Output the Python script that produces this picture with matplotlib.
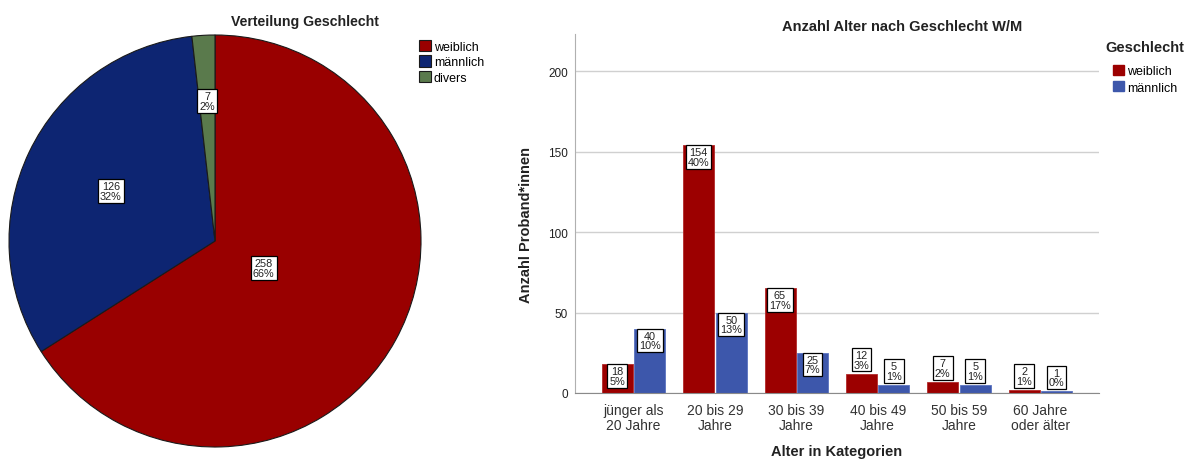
import numpy as np
import matplotlib
matplotlib.use("Agg")
import matplotlib.pyplot as plt
from matplotlib.patches import Patch

plt.rcParams['font.family'] = ['Liberation Sans', 'DejaVu Sans']

# Geschlechterverteilung (Kreisdiagramm)
gender_labels = ['weiblich', 'männlich', 'divers']
gender_counts = [258, 126, 7]
pie_colors = ['#990000', '#0d2572', '#5a7a4c']

# Alter nach Geschlecht (Balkendiagramm)
age_groups = ['jünger als\n20 Jahre', '20 bis 29\nJahre', '30 bis 39\nJahre',
              '40 bis 49\nJahre', '50 bis 59\nJahre', '60 Jahre\noder älter']
female = [18, 154, 65, 12, 7, 2]
male = [40, 50, 25, 5, 5, 1]
bar_colors = ['#9c0000', '#3d57ab']

fig = plt.figure(figsize=(11.93, 4.6), dpi=100)

# --- Kreisdiagramm ---
ax1 = fig.add_axes([9 / 1193, 12 / 460, 412 / 1193, 412 / 460])
wedges, _ = ax1.pie(gender_counts, colors=pie_colors, startangle=90, counterclock=False,
                    wedgeprops=dict(edgecolor='#1a1a1a', linewidth=0.8))
ax1.set_xlim(-1, 1)
ax1.set_ylim(-1, 1)
ax1.set_aspect('equal')

total = sum(gender_counts)
label_r = [0.27, 0.56, 0.68]
for w, n, r in zip(wedges, gender_counts, label_r):
    mid = np.deg2rad((w.theta1 + w.theta2) / 2)
    ax1.text(r * np.cos(mid), r * np.sin(mid), f"{n}\n{round(n / total * 100)}%",
             ha='center', va='center', fontsize=7.8, linespacing=0.95, color='#222222',
             bbox=dict(boxstyle='square,pad=0.18', fc='white', ec='black', lw=0.9))

fig.text(305 / 1193, 1 - 22 / 460, 'Verteilung Geschlecht', ha='center', va='center',
         fontsize=10.2, fontweight='bold', color='#222222')
fig.legend(wedges, gender_labels, loc='upper left', bbox_to_anchor=(410 / 1193, 1 - 32 / 460),
           frameon=False, fontsize=9, handlelength=1.0, handleheight=1.0,
           handletextpad=0.2, labelspacing=0.22, borderpad=0.2)

# --- Balkendiagramm ---
ax2 = fig.add_axes([575 / 1193, 66 / 460, 524 / 1193, 359 / 460])
x = np.arange(len(age_groups))
bw = 0.38
off = 0.2
all_total = sum(female) + sum(male)
b1 = ax2.bar(x - off, female, bw, color=bar_colors[0], edgecolor='#b22a2a', linewidth=0.6)
b2 = ax2.bar(x + off, male, bw, color=bar_colors[1], edgecolor='#5a72c0', linewidth=0.6)

box = dict(boxstyle='square,pad=0.18', fc='white', ec='black', lw=0.9)
for bars, vals in ((b1, female), (b2, male)):
    for b, v in zip(bars, vals):
        txt = f"{v}\n{round(v / all_total * 100 + 1e-9)}%"
        cx = b.get_x() + b.get_width() / 2
        # kurze Balken: Beschriftung oberhalb, sonst innen am oberen Rand
        if v >= 17:
            ax2.annotate(txt, (cx, v), xytext=(0, -1.5), textcoords='offset points',
                         ha='center', va='top', fontsize=7.8, linespacing=0.95,
                         color='#222222', bbox=box)
        else:
            ax2.annotate(txt, (cx, v), xytext=(0, 3), textcoords='offset points',
                         ha='center', va='bottom', fontsize=7.8, linespacing=0.95,
                         color='#222222', bbox=box)

ax2.set_xlim(-0.72, len(age_groups) - 1 + 0.72)
ax2.set_ylim(0, 223)
ax2.set_yticks([0, 50, 100, 150, 200])
ax2.yaxis.grid(True, color='#d0d0d0', linewidth=1.0)
ax2.set_axisbelow(True)
ax2.set_xticks(x)
ax2.set_xticklabels(age_groups, fontsize=10, color='#333333', linespacing=1.15)
ax2.tick_params(axis='both', length=0)
ax2.tick_params(axis='y', labelsize=8.5, colors='#222222', pad=5)
ax2.tick_params(axis='x', pad=7)
for s in ('top', 'right'):
    ax2.spines[s].set_visible(False)
ax2.spines['left'].set_color('#b0b0b0')
ax2.spines['bottom'].set_color('#8a8a8a')
ax2.set_xlabel('Alter in Kategorien', fontsize=10.5, fontweight='bold', color='#222222')
ax2.xaxis.set_label_coords(0.5, -0.143)
ax2.set_ylabel('Anzahl Proband*innen', fontsize=10.5, fontweight='bold', color='#222222')
ax2.yaxis.set_label_coords(-0.08, 0.47)
fig.text(902 / 1193, 1 - 27 / 460, 'Anzahl Alter nach Geschlecht W/M', ha='center',
         va='center', fontsize=10.5, fontweight='bold', color='#222222')

fig.text(1105 / 1193, 1 - 48 / 460, 'Geschlecht', ha='left', va='center',
         fontsize=10.5, fontweight='bold', color='#222222')
handles = [Patch(color=bar_colors[0]), Patch(color=bar_colors[1])]
fig.legend(handles, ['weiblich', 'männlich'], loc='upper left',
           bbox_to_anchor=(1104 / 1193, 1 - 57 / 460), frameon=False, fontsize=9,
           handlelength=0.9, handleheight=0.9, handletextpad=0.25, labelspacing=0.3,
           borderpad=0.2)

fig.savefig('out.png', dpi=100)
